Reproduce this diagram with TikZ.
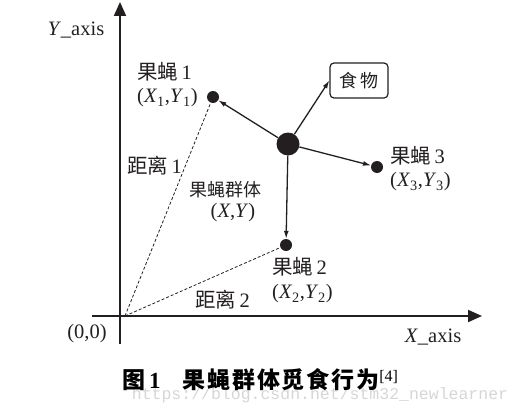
\documentclass[tikz,border=0pt]{standalone}
\usepackage{fontspec}
\setmainfont{Liberation Serif}
\newfontfamily\cjk{Noto Sans CJK SC}
\newfontfamily\capcjk[LetterSpace=8]{Noto Sans CJK SC}
\newfontfamily\wmfont{Liberation Mono}
\usetikzlibrary{arrows.meta}
\definecolor{ink}{HTML}{231F20}
\begin{document}
\begin{tikzpicture}[x=1pt,y=-1pt,
  axis/.style={line width=2pt, draw=ink, -{Triangle[length=14pt,width=12pt]}},
  fly/.style={circle, fill=ink, inner sep=0pt, minimum size=12pt},
  swarm/.style={circle, fill=ink, inner sep=0pt, minimum size=23pt},
  arr/.style={line width=1.3pt, draw=ink, -{Latex[length=8pt,width=5pt]}},
  dist/.style={densely dashed, line width=0.8pt, draw=ink},
  lbl/.style={font=\fontsize{20.5}{22}\selectfont, text=ink, inner sep=0pt},
  cj/.style={font=\fontsize{18}{20}\selectfont\cjk, text=ink, inner sep=0pt}
]
\useasboundingbox (0,0) rectangle (521,412);
% axes
\coordinate (ybot) at (120,344);
\coordinate (ytop) at (120,2);
\coordinate (xl) at (92,316);
\coordinate (xr) at (482,316);
\coordinate (o) at (125,316);
\draw[axis] (ybot) -- (ytop);
\draw[axis] (xl) -- (xr);
% nodes
\node[swarm] (c) at (288,144) {};
\node[fly] (f1) at (213,97) {};
\node[fly] (f2) at (286,245) {};
\node[fly] (f3) at (377,167) {};
\node[draw=ink, line width=1.2pt, rounded corners=4pt, minimum width=58pt, minimum height=35pt, inner sep=0pt,
      font=\fontsize{18}{20}\selectfont\cjk, text=ink] (food) at (359,80.5) {食\,物};
% connectors
\draw[arr] (c) -- (food.west);
\draw[arr] (c) -- (f1);
\draw[arr] (c) -- (f2);
\draw[arr] (c) -- (f3);
\draw[dist] (o) -- (f1);
\draw[dist] (o) -- (f2);
% labels
\node[lbl] (yl) at (76,30) {\textit{Y}\_axis};
\node[lbl] (xlab) at (433,337) {\textit{X}\_axis};
\node[lbl] (org) at (87,334) {(0,0)};
\node[lbl, anchor=west] (t1) at (137,72) {{\cjk 果蝇}\,1};
\node[lbl, anchor=west] (p1) at (137,98) {(\textit{X}\textsubscript{1},\textit{Y}\textsubscript{1})};
\node[lbl, anchor=west] (d1) at (127,166) {{\cjk 距离}\,1};
\node[cj] (tc) at (225,190) {果蝇群体};
\node[lbl] (pc) at (233,213) {(\textit{X},\textit{Y})};
\node[lbl, anchor=west] (t3) at (390,156) {{\cjk 果蝇}\,3};
\node[lbl, anchor=west] (p3) at (390,182) {(\textit{X}\textsubscript{3},\textit{Y}\textsubscript{3})};
\node[lbl, anchor=west] (t2) at (272,267) {{\cjk 果蝇}\,2};
\node[lbl, anchor=west] (p2) at (272,294) {(\textit{X}\textsubscript{2},\textit{Y}\textsubscript{2})};
\node[lbl, anchor=west] (d2) at (195,300) {{\cjk 距离}\,2};
% watermark
\node[inner sep=0pt, text=black!16, font=\fontsize{16.5}{18}\selectfont\wmfont] (wm) at (320,395)
  {https://blog.csdn.net/stm32\_newlearner};
% caption
\node[inner sep=0pt, text=black, font=\fontsize{23}{25}\selectfont, anchor=west] (cap) at (122,380)
  {{\capcjk\bfseries 图}\,\textbf{1}\hspace{22pt}{\capcjk\bfseries 果蝇群体觅食行为}{\fontsize{16}{18}\selectfont\raisebox{7pt}{[4]}}};
\end{tikzpicture}
\end{document}
